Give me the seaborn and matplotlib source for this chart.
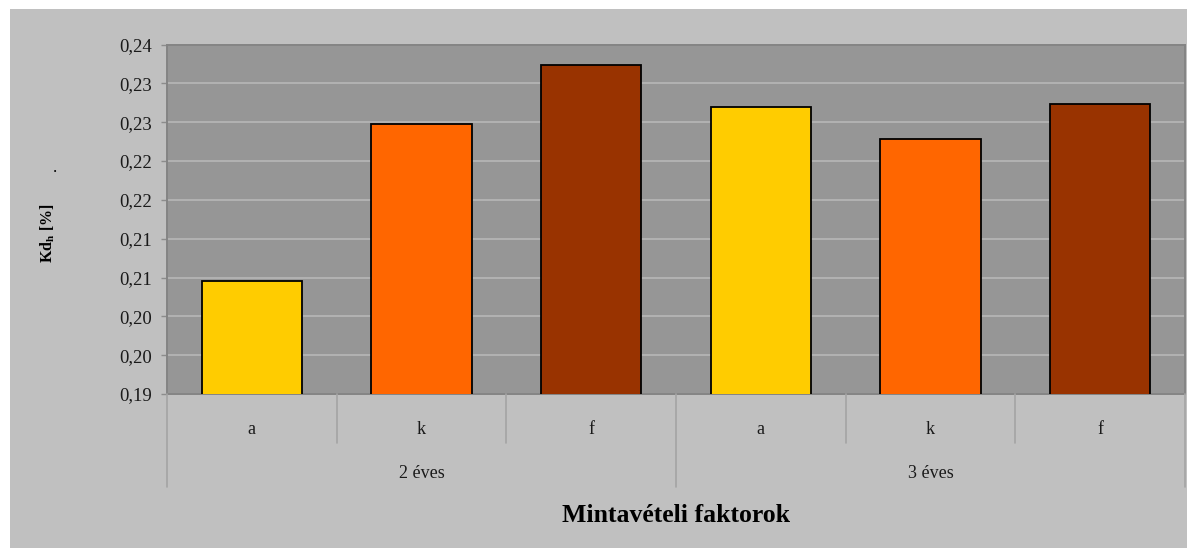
import matplotlib
matplotlib.use("Agg")
import matplotlib.pyplot as plt
import matplotlib.transforms as mtransforms
from matplotlib.patches import Rectangle
from matplotlib.lines import Line2D
import seaborn as sns
import pandas as pd
import numpy as np

# ---- data ----
groups = ["2 éves", "2 éves", "2 éves", "3 éves", "3 éves", "3 éves"]
factors = ["a", "k", "f", "a", "k", "f"]
values = [0.2046, 0.2247, 0.2324, 0.2269, 0.2228, 0.2274]
group_names = ["2 éves", "3 éves"]
factor_colors = {"a": "#FFCC00", "k": "#FF6600", "f": "#993300"}
ytick_values = [0.190, 0.195, 0.200, 0.205, 0.210, 0.215, 0.220, 0.225, 0.230, 0.235]
ytick_labels = ["0,19", "0,20", "0,20", "0,21", "0,21", "0,22", "0,22", "0,23", "0,23", "0,24"]
y_label = "Kd$_{\\mathbf{h}}$ [%]"
x_title = "Mintavételi faktorok"

df = pd.DataFrame({"group": groups, "factor": factors, "value": values})
df["key"] = df["group"] + " " + df["factor"]

sns.set_theme(style="white")
plt.rcParams["font.family"] = ["Liberation Serif", "DejaVu Serif"]
plt.rcParams["mathtext.fontset"] = "custom"
plt.rcParams["mathtext.rm"] = "Liberation Serif"
plt.rcParams["mathtext.bf"] = "Liberation Serif:bold"
plt.rcParams["mathtext.it"] = "Liberation Serif:italic"

W, H = 1187, 548
fig = plt.figure(figsize=(W / 100, H / 100), dpi=100)
fig.patch.set_facecolor("white")
fig.patches.append(Rectangle((10 / W, 0), 1 - 10 / W, 1 - 9 / H, transform=fig.transFigure,
                             facecolor="#C0C0C0", edgecolor="none", zorder=-10))

ax_left, ax_right, ax_top, ax_bot = 167, 1185, 44.5, 394
ax = fig.add_axes([ax_left / W, 1 - ax_bot / H, (ax_right - ax_left) / W, (ax_bot - ax_top) / H])
ax.set_facecolor("#969696")

sns.barplot(data=df, x="key", y="value", hue="factor", palette=factor_colors, dodge=False,
            saturation=1, width=0.59, edgecolor="black", linewidth=1.3, legend=False,
            ax=ax, zorder=3)

ax.set_ylim(ytick_values[0], ytick_values[-1])
ax.set_xlim(-0.5, len(values) - 0.5)
ax.set_yticks(ytick_values)
ax.set_yticklabels(ytick_labels)
ax.yaxis.grid(True, color="#B4B4B4", linewidth=1.3, zorder=0)
ax.set_axisbelow(True)
ax.tick_params(axis="y", direction="out", length=4.5, width=1, color="#8C8C8C",
               labelsize=13.5, labelcolor="#1a1a1a", pad=6, left=True)
ax.tick_params(axis="x", bottom=False, labelbottom=False)
ax.set_xlabel("")
ax.set_ylabel("")
for side, sp in ax.spines.items():
    sp.set_visible(True)
    sp.set_color("#848484")
    sp.set_linewidth(1.4)

# ---- category table below the axes ----
trans = mtransforms.blended_transform_factory(ax.transData, fig.transFigure)
def fy(px):
    return 1 - px / H

n = len(values)
for i in range(n + 1):
    xb = i - 0.5
    is_group = (i % 3 == 0)
    y_end = 487 if is_group else 443
    fig.add_artist(Line2D([xb, xb], [fy(ax_bot), fy(y_end)], transform=trans,
                          color="#A4A4A4", linewidth=1.2))
for i, f in enumerate(factors):
    fig.text(i, fy(429), f, transform=trans, ha="center", va="center",
             fontsize=13, color="#1a1a1a")
for gi, g in enumerate(group_names):
    fig.text(gi * 3 + 1, fy(473), g, transform=trans, ha="center", va="center",
             fontsize=13, color="#1a1a1a")

fig.text(np.mean([ax_left, ax_right]) / W, fy(515), x_title, ha="center", va="center",
         fontsize=18.5, fontweight="bold", color="black")
fig.text(48 / W, fy(233), y_label, rotation=90, ha="center", va="center",
         fontsize=11.5, fontweight="bold", color="black")
fig.text(54.5 / W, fy(168), ".", ha="center", va="center", fontsize=12, color="black")

fig.savefig("out.png", dpi=100, facecolor=fig.get_facecolor())
